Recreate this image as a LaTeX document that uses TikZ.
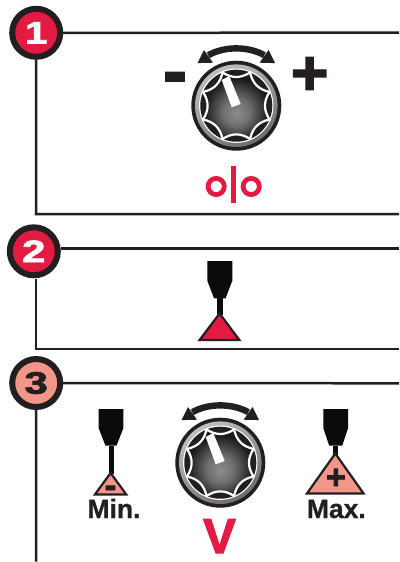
\documentclass[tikz,border=0pt]{standalone}
\usepackage{fontspec}
\usepackage{graphicx}
\setmainfont{Liberation Sans}
\newfontfamily\hvy[BoldFeatures={FakeBold=2.2}]{Liberation Sans}
\newfontfamily\mdh[BoldFeatures={FakeBold=0.8}]{Liberation Sans}
\definecolor{ink}{HTML}{231F20}
\definecolor{torch}{HTML}{0D0A0B}
\definecolor{redc}{HTML}{E31A42}
\definecolor{salmon}{HTML}{F3968A}
\definecolor{knobmid}{HTML}{8C8C8C}
\definecolor{knobdark}{HTML}{1C1A1B}
\pgfdeclareradialshading{knobshade}{\pgfpoint{0bp}{-6bp}}{color(0bp)=(knobmid); color(10bp)=(knobmid!75!knobdark); color(24bp)=(knobdark); color(60bp)=(knobdark)}
\tikzset{
  badge/.style={circle,draw=ink,line width=6pt,minimum size=48pt,inner sep=0pt,font=\hvy\bfseries\fontsize{31}{31}\selectfont},
  rule/.style={draw=ink,line width=2.5pt},
  tri/.style={draw=ink,line width=2.2pt,line join=miter},
  lbl/.style={inner sep=0pt,font=\mdh\bfseries\fontsize{26.5}{26.5}\selectfont,text=ink},
  sign/.style={inner sep=0pt,text=ink,font=\hvy\bfseries\fontsize{#1}{#1}\selectfont},
  ring/.style={draw=redc,line width=4.8pt,circle,minimum size=16.2pt,inner sep=0pt}
}
\newcommand{\knobat}[2]{%
\begin{scope}[shift={(#1,#2)}]
  \fill[ink] (0,0) circle[radius=45];
  \shade[left color=gray!50,right color=gray!85!black,shading angle=30] (0,0) circle[radius=41.3];
  \fill[white] (0,0) circle[radius=37.2];
  \fill[ink] (0,0) circle[radius=36];
  \path[shading=knobshade,draw=white,line width=2.2pt,line join=round]
    (-22.5:36) \foreach \a in {0,45,...,315} { .. controls ({\a-9}:27.5) and ({\a+9}:27.5) .. ({\a+22.5}:36) } -- cycle;
  \fill[white] (-14.6,-25.7) -- (-7,-29.7) -- (4.4,-1.7) -- (-4.6,1.6) -- cycle;
  \draw[ink,line width=6.4pt] (-28,-50.5) .. controls (-12,-59.6) and (12,-59.6) .. (28,-50.5);
  \fill[ink] (-38.8,-42.6) -- (-32.3,-55.7) -- (-23.3,-43) -- cycle;
  \fill[ink] (38.8,-42.6) -- (32.3,-55.7) -- (23.3,-43) -- cycle;
\end{scope}}
% centre x, top y, body half-width, body bottom, neck half-width, neck y, stem half-width, stem end (all relative to the top)
\newcommand{\torchat}[8]{%
\begin{scope}[shift={(#1,#2)}]
  \fill[torch] (-#3,0) -- (#3,0) -- (#3,#4) -- (#5,#6) -- (-#5,#6) -- (-#3,#4) -- cycle;
  \fill[torch] (-#7,#6) rectangle (#7,#8);
\end{scope}}
\begin{document}
\begin{tikzpicture}[x=1pt,y=-1pt]
\useasboundingbox (0,0) rectangle (399,562);
\fill[white] (0,0) rectangle (399,562);
% frames
\coordinate (r1) at (399,32.7);
\coordinate (l1) at (36,214);
\coordinate (e1) at (399,214);
\coordinate (r2) at (399,248.3);
\coordinate (l2) at (36,349);
\coordinate (e2) at (399,349);
\coordinate (r3) at (399,383.3);
\coordinate (e3) at (36,561.7);
\node[badge,fill=redc,text=white] (b1) at (36.2,32.8) {\scalebox{1.3}[1]{1}};
\node[badge,fill=redc,text=white] (b2) at (33.8,251.3) {\scalebox{1.35}[1]{2}};
\node[badge,fill=salmon,text=ink] (b3) at (36.2,383) {\scalebox{1.35}[1]{3}};
\draw[rule] (b1) -- (r1);
\draw[rule] (b1.south) -- (l1) -- (e1);
\draw[rule] (b2.east |- r2) -- (r2);
\draw[rule] ([xshift=2.2pt,yshift=-1pt]b2.south) -- (l2) -- (e2);
\draw[rule] (b3) -- (r3);
\draw[rule] (b3.south) -- (e3);
% panel 1
\knobat{236.3}{105.7}
\node[sign=72] (minus1) at (175,84) {-};
\node[sign=64] (plus1) at (309.7,76) {+};
\node[ring] (o1) at (216.2,186.5) {};
\node[ring] (o2) at (251.2,186.5) {};
\fill[redc] (231,165.7) rectangle (236,203.3);
% panel 2
\torchat{219.8}{261}{12.5}{19.7}{5.8}{37.3}{2.8}{54}
\draw[tri,fill=redc] (219.6,313.5) -- (239.4,340) -- (199.6,340) -- cycle;
% panel 3
\torchat{111}{409}{12.3}{19.3}{5.5}{36.7}{2.5}{65}
\draw[tri,fill=salmon] (110.6,473) -- (126.2,494.4) -- (95,494.4) -- cycle;
\node[sign=36] (minus3) at (110.5,491.5) {-};
\torchat{335.7}{409}{12.3}{19.3}{6.5}{36.7}{2.5}{46}
\draw[tri,fill=salmon] (335.3,453.5) -- (363.5,493.4) -- (307,493.4) -- cycle;
\node[sign=34] (plus3) at (336,478.8) {+};
\knobat{220.3}{462.7}
\node[lbl,anchor=base] (minl) at (114,518) {Min.};
\node[lbl,anchor=base] (maxl) at (336.3,518) {Max.};
\node[anchor=base,inner sep=0pt,text=redc,font=\hvy\bfseries\fontsize{49}{49}\selectfont] (vl) at (219.5,553) {V};
\end{tikzpicture}
\end{document}
